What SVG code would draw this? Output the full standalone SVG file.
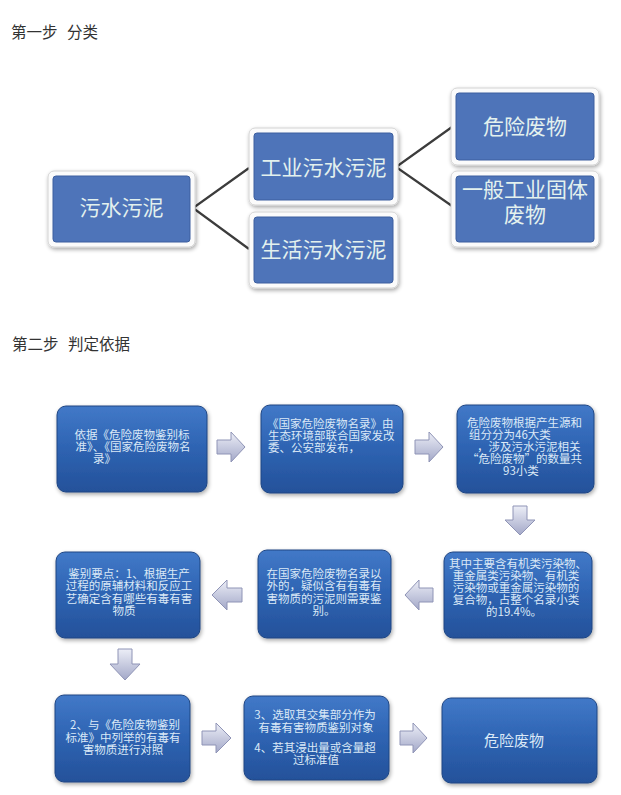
<svg xmlns="http://www.w3.org/2000/svg" width="621" height="795" viewBox="0 0 621 795">
<style>
.title{font-family:"Noto Sans CJK SC","Noto Sans",sans-serif;font-size:15.5px;fill:#333;word-spacing:6px}
.t1{font-family:"Noto Sans CJK SC","Noto Sans",sans-serif;font-size:21px;fill:#e3f1ee;text-anchor:middle}
.t2{font-family:"Noto Sans CJK SC","Noto Sans",sans-serif;font-size:11.5px;fill:#dbe9f7}
.c{text-anchor:middle}
.frame{fill:#fbfbfb;stroke:#d4d4d4;stroke-width:1}
.flat{fill:#4e74b9;stroke:#3d5f9f;stroke-width:1}
.glossy{fill:url(#bg);stroke:#1f4683;stroke-width:1}
.link{stroke:#3c3c3c;stroke-width:2.2;fill:none}
.arr{fill:url(#ag);stroke:#8f94b6;stroke-width:1}
</style>
<defs>
<linearGradient id="bg" x1="0" y1="0" x2="0" y2="1">
<stop offset="0" stop-color="#4279c8"/>
<stop offset="0.45" stop-color="#2f65b4"/>
<stop offset="1" stop-color="#24519a"/>
</linearGradient>
<linearGradient id="ag" x1="0" y1="0" x2="0" y2="1">
<stop offset="0" stop-color="#eceef7"/>
<stop offset="1" stop-color="#a3a8c8"/>
</linearGradient>
<filter id="sh" x="-10%" y="-10%" width="120%" height="130%">
<feGaussianBlur in="SourceAlpha" stdDeviation="2"/>
<feOffset dx="1" dy="2" result="b"/>
<feComponentTransfer><feFuncA type="linear" slope="0.35"/></feComponentTransfer>
<feMerge><feMergeNode/><feMergeNode in="SourceGraphic"/></feMerge>
</filter>
</defs>
<rect width="621" height="795" fill="#ffffff"/>

<text class="title" x="11" y="38">第一步 分类</text>
<text class="title" x="12" y="350">第二步 判定依据</text>

<g id="connectors">
<path class="link" d="M249 168 L193 208 L249 249"/>
<path class="link" d="M452 127 L396 167 L452 206"/>
<path id="a1" class="arr" d="M217 440 H231 V432 L245 447 L231 462 V454 H217 Z"/>
<path id="a2" class="arr" d="M415 440 H429 V432 L443 447 L429 462 V454 H415 Z"/>
<path id="a3" class="arr" d="M513 506 H527 V520 H535 L520 535 L505 520 H513 Z"/>
<path id="a4" class="arr" d="M433 588 H419 V580 L405 595 L419 610 V602 H433 Z"/>
<path id="a5" class="arr" d="M242 588 H227 V580 L212 595 L227 610 V602 H242 Z"/>
<path id="a6" class="arr" d="M118 649 H132 V664 H140 L125 680 L110 664 H118 Z"/>
<path id="a7" class="arr" d="M202 731 H216 V723 L231 738 L216 753 V745 H202 Z"/>
<path id="a8" class="arr" d="M400 731 H413 V723 L427 738 L413 753 V745 H400 Z"/>
</g>

<g id="n-wushui">
<rect class="frame" x="48" y="171" width="147" height="76" rx="6" filter="url(#sh)"/>
<rect class="flat" x="53" y="176" width="137" height="66" rx="3"/>
<text class="t1" x="121.5" y="215">污水污泥</text>
</g>
<g id="n-gongye">
<rect class="frame" x="249" y="128" width="149" height="77" rx="6" filter="url(#sh)"/>
<rect class="flat" x="254" y="133" width="139" height="67" rx="3"/>
<text class="t1" x="323.5" y="175">工业污水污泥</text>
</g>
<g id="n-shenghuo">
<rect class="frame" x="249" y="212" width="149" height="76" rx="6" filter="url(#sh)"/>
<rect class="flat" x="254" y="217" width="139" height="66" rx="3"/>
<text class="t1" x="323.5" y="257">生活污水污泥</text>
</g>
<g id="n-weixian">
<rect class="frame" x="451" y="88" width="148" height="77" rx="6" filter="url(#sh)"/>
<rect class="flat" x="456" y="93" width="138" height="67" rx="3"/>
<text class="t1" x="525" y="134">危险废物</text>
</g>
<g id="n-yiban">
<rect class="frame" x="451" y="171" width="148" height="76" rx="6" filter="url(#sh)"/>
<rect class="flat" x="456" y="176" width="138" height="66" rx="3"/>
<text class="t1" x="525" y="197">一般工业固体</text>
<text class="t1" x="525" y="222">废物</text>
</g>

<g id="s1">
<rect class="glossy" x="57" y="406" width="150" height="86" rx="9" filter="url(#sh)"/>
<text class="t2 c" x="132" y="438.5">依据《危险废物鉴别标</text>
<text class="t2 c" x="133" y="450.5">准》、《国家危险废物名</text>
<text class="t2" x="93" y="462.5">录》</text>
</g>
<g id="s2">
<rect class="glossy" x="261" y="405" width="142" height="88" rx="9" filter="url(#sh)"/>
<text class="t2" x="267" y="427.5">《国家危险废物名录》由</text>
<text class="t2" x="268" y="439.5">生态环境部联合国家发改</text>
<text class="t2" x="268" y="451.5">委、公安部发布，</text>
</g>
<g id="s3">
<rect class="glossy" x="457" y="405" width="137" height="88" rx="9" filter="url(#sh)"/>
<text class="t2" x="467" y="427">危险废物根据产生源和</text>
<text class="t2" x="469" y="439">组分分为46大类</text>
<text class="t2" x="477" y="451">，涉及污水污泥相关</text>
<text class="t2" x="467" y="463">“危险废物”的数量共</text>
<text class="t2 c" x="521" y="475">93小类</text>
</g>
<g id="s4">
<rect class="glossy" x="444" y="552" width="148" height="86" rx="9" filter="url(#sh)"/>
<text class="t2 c" x="518" y="568">其中主要含有机类污染物、</text>
<text class="t2 c" x="516" y="580">重金属类污染物、有机类</text>
<text class="t2 c" x="516" y="592">污染物或重金属污染物的</text>
<text class="t2 c" x="516" y="604">复合物，占整个名录小类</text>
<text class="t2 c" x="514" y="616">的19.4%。</text>
</g>
<g id="s5">
<rect class="glossy" x="258" y="550" width="133" height="88" rx="9" filter="url(#sh)"/>
<text class="t2 c" x="324" y="577.5">在国家危险废物名录以</text>
<text class="t2 c" x="324" y="590">外的，疑似含有有毒有</text>
<text class="t2 c" x="324" y="602.5">害物质的污泥则需要鉴</text>
<text class="t2 c" x="324" y="615">别。</text>
</g>
<g id="s6">
<rect class="glossy" x="56" y="552" width="144" height="86" rx="9" filter="url(#sh)"/>
<text class="t2 c" x="129" y="577.5">鉴别要点：1、根据生产</text>
<text class="t2 c" x="129" y="590">过程的原辅材料和反应工</text>
<text class="t2 c" x="129" y="602.5">艺确定含有哪些有毒有害</text>
<text class="t2 c" x="124" y="615">物质</text>
</g>
<g id="s7">
<rect class="glossy" x="55" y="695" width="135" height="87" rx="9" filter="url(#sh)"/>
<text class="t2 c" x="125" y="729">2、与《危险废物鉴别</text>
<text class="t2 c" x="123" y="741.5">标准》中列举的有毒有</text>
<text class="t2 c" x="123" y="754">害物质进行对照</text>
</g>
<g id="s8">
<rect class="glossy" x="244" y="696" width="145" height="84" rx="9" filter="url(#sh)"/>
<text class="t2 c" x="315" y="718.5">3、选取其交集部分作为</text>
<text class="t2 c" x="316" y="731.5">有毒有害物质鉴别对象</text>
<text class="t2 c" x="315" y="751.5">4、若其浸出量或含量超</text>
<text class="t2 c" x="316" y="764">过标准值</text>
</g>
<g id="s9">
<rect class="glossy" x="442" y="698" width="155" height="85" rx="9" filter="url(#sh)"/>
<text class="t2 c" x="514" y="745.5" style="font-size:15px">危险废物</text>
</g>
</svg>
